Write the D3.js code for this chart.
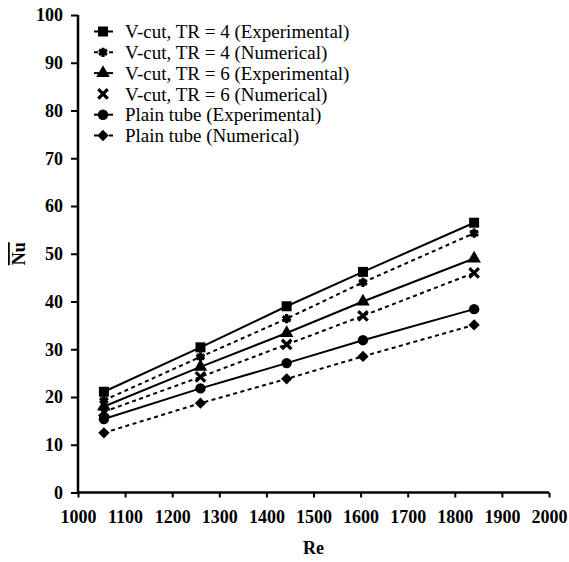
<!DOCTYPE html>
<html>
<meta charset="utf-8">
<head>
  <script src="https://d3js.org/d3.v7.min.js"></script>
  <style>
    body { margin: 0; background: #fff; }
  </style>
</head>
<body>
<div id="my_dataviz"></div>
<script>

// Reynolds numbers
var re = [1055, 1260, 1443, 1605, 1841];

// Nu values for each series
var vcut4Exp = [21.1, 30.4, 39.0, 46.2, 56.5];
var vcut4Num = [19.3, 28.4, 36.4, 44.0, 54.3];
var vcut6Exp = [18.0, 26.3, 33.4, 40.0, 49.0];
var vcut6Num = [16.9, 24.2, 31.0, 37.0, 46.0];
var plainExp = [15.4, 21.8, 27.1, 31.9, 38.4];
var plainNum = [12.5, 18.7, 23.8, 28.5, 35.1];

var seriesNames = [
  "V-cut, TR = 4 (Experimental)",
  "V-cut, TR = 4 (Numerical)",
  "V-cut, TR = 6 (Experimental)",
  "V-cut, TR = 6 (Numerical)",
  "Plain tube (Experimental)",
  "Plain tube (Numerical)"
];
var xTicks = [1000, 1100, 1200, 1300, 1400, 1500, 1600, 1700, 1800, 1900, 2000];
var yTicks = [0, 10, 20, 30, 40, 50, 60, 70, 80, 90, 100];

var series = [
  {name: seriesNames[0], values: vcut4Exp, symbol: d3.symbolSquare, size: 100, dashed: false, stroked: false, rot: 0},
  {name: seriesNames[1], values: vcut4Num, symbol: d3.symbolAsterisk, size: 60, dashed: true, stroked: true, rot: 0},
  {name: seriesNames[2], values: vcut6Exp, symbol: d3.symbolTriangle, size: 80, dashed: false, stroked: false, rot: 0},
  {name: seriesNames[3], values: vcut6Num, symbol: d3.symbolTimes, size: 60, dashed: true, stroked: true, rot: 0},
  {name: seriesNames[4], values: plainExp, symbol: d3.symbolCircle, size: 85, dashed: false, stroked: false, rot: 0},
  {name: seriesNames[5], values: plainNum, symbol: d3.symbolSquare, size: 64, dashed: true, stroked: false, rot: 45}
];

var FONT = "'Liberation Serif', 'Times New Roman', serif";
var W = 569, H = 562;
var x = d3.scaleLinear().domain([1000, 2000]).range([78, 549]);
var y = d3.scaleLinear().domain([0, 100]).range([492.5, 15]);

var svg = d3.select("#my_dataviz").append("svg")
    .attr("width", W)
    .attr("height", H);

// axes
var xAxis = svg.append("g")
    .attr("transform", "translate(0," + y(0) + ")")
    .call(d3.axisBottom(x).tickValues(xTicks).tickSize(5).tickPadding(13).tickFormat(d3.format("d")));
var yAxis = svg.append("g")
    .attr("transform", "translate(" + x(1000) + ",0)")
    .call(d3.axisLeft(y).tickValues(yTicks).tickSize(7).tickPadding(8));

[xAxis, yAxis].forEach(function(a) {
  a.select(".domain").attr("stroke", "#000").attr("stroke-width", 2.5);
  a.selectAll(".tick line").attr("stroke", "#000").attr("stroke-width", 2);
  a.selectAll(".tick text")
    .style("font-family", FONT)
    .style("font-size", "18px")
    .style("font-weight", "bold")
    .attr("fill", "#000");
});
// plain axis lines without outer ticks
xAxis.select(".domain").attr("d", "M" + x(1000) + ",0H" + x(2000));
yAxis.select(".domain").attr("d", "M0," + y(0) + "V" + y(100));

// axis titles
svg.append("text")
  .attr("x", (x(1000) + x(2000)) / 2)
  .attr("y", 554)
  .attr("text-anchor", "middle")
  .style("font-family", FONT)
  .style("font-size", "18px")
  .style("font-weight", "bold")
  .text("Re");

svg.append("text")
  .attr("transform", "translate(25," + (y(0) + y(100)) / 2 + ") rotate(-90)")
  .attr("text-anchor", "middle")
  .style("font-family", FONT)
  .style("font-size", "18px")
  .style("font-weight", "bold")
  .style("text-decoration", "overline")
  .text("Nu");

// lines and markers
var line = d3.line()
  .x(function(d, i) { return x(re[i]); })
  .y(function(d) { return y(d); });

function drawMarker(g, s, px, py) {
  g.append("path")
    .attr("d", d3.symbol().type(s.symbol).size(s.size)())
    .attr("transform", "translate(" + px + "," + py + ") rotate(" + s.rot + ")")
    .attr("fill", s.stroked ? "none" : "#000")
    .attr("stroke", "#000")
    .attr("stroke-width", s.stroked ? 3.2 : 0);
}

series.forEach(function(s) {
  var g = svg.append("g");
  g.append("path")
    .datum(s.values)
    .attr("d", line)
    .attr("fill", "none")
    .attr("stroke", "#000")
    .attr("stroke-width", 2)
    .attr("stroke-dasharray", s.dashed ? "4,3.5" : null);
  s.values.forEach(function(v, i) {
    drawMarker(g, s, x(re[i]), y(v));
  });
});

// legend
var legend = svg.append("g");
series.forEach(function(s, i) {
  var ly = 31.5 + i * 20.8;
  if (i !== 3) {
    legend.append("line")
      .attr("x1", 94).attr("x2", 113)
      .attr("y1", ly).attr("y2", ly)
      .attr("stroke", "#000")
      .attr("stroke-width", 2)
      .attr("stroke-dasharray", s.dashed ? "4,3.5" : null);
  }
  drawMarker(legend, s, 103, ly);
  legend.append("text")
    .attr("x", 125)
    .attr("y", ly)
    .attr("dy", "0.35em")
    .style("font-family", FONT)
    .style("font-size", "19px")
    .text(s.name);
});

</script>
</body>
</html>
